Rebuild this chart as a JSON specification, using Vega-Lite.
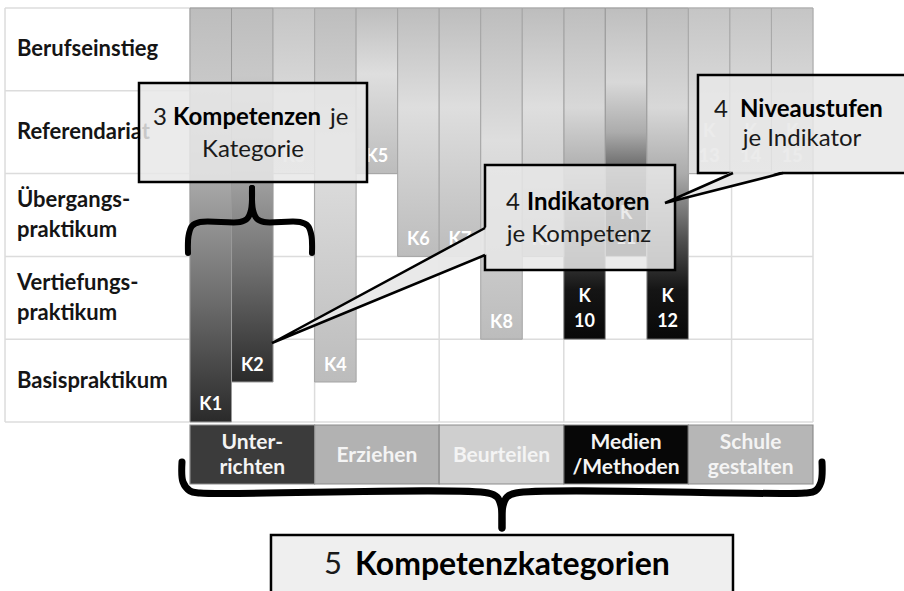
{
  "$schema": "https://vega.github.io/schema/vega-lite/v6.json",
  "width": 904,
  "height": 591,
  "autosize": {"type": "fit", "contains": "padding"},
  "padding": 0,
  "background": "white",
  "config": {"view": {"stroke": null}, "text": {"font": "Lato"}},
  "datasets": {
    "gitter": [
      {"x": -4.454, "x2": 15, "y": 0, "y2": 0},
      {"x": -4.454, "x2": 15, "y": 1, "y2": 1},
      {"x": -4.454, "x2": 15, "y": 2, "y2": 2},
      {"x": -4.454, "x2": 15, "y": 3, "y2": 3},
      {"x": -4.454, "x2": 15, "y": 4, "y2": 4},
      {"x": -4.454, "x2": 15, "y": 5, "y2": 5},
      {"x": -4.454, "x2": -4.454, "y": 0, "y2": 5},
      {"x": 0, "x2": 0, "y": 0, "y2": 5},
      {"x": 3, "x2": 3, "y": 0, "y2": 5},
      {"x": 6, "x2": 6, "y": 0, "y2": 5},
      {"x": 9, "x2": 9, "y": 0, "y2": 5},
      {"x": 13.04, "x2": 13.04, "y": 0, "y2": 5},
      {"x": 15, "x2": 15, "y": 0, "y2": 5}
    ],
    "stufen": [
      {"x": -4.166, "y": 4.5, "t": "Berufseinstieg", "z": 1},
      {"x": -4.166, "y": 3.5, "t": "Referendariat", "z": 1},
      {"x": -4.166, "y": 2.5, "t": "Übergangs-\npraktikum", "z": 2},
      {"x": -4.166, "y": 1.5, "t": "Vertiefungs-\npraktikum", "z": 2},
      {"x": -4.166, "y": 0.5, "t": "Basispraktikum", "z": 1}
    ],
    "balken": [
      {"k": "K1", "x": 0, "x2": 1, "xm": 0.5, "y": 0, "y2": 5, "g": "a", "t": "K1"},
      {"k": "K2", "x": 1, "x2": 2, "xm": 1.5, "y": 0.483, "y2": 5, "g": "a", "t": "K2"},
      {"k": "K3", "x": 2, "x2": 3, "xm": 2.5, "y": 3.0, "y2": 5, "g": "d", "t": "K3"},
      {"k": "K4", "x": 3, "x2": 4, "xm": 3.5, "y": 0.483, "y2": 5, "g": "c", "t": "K4"},
      {"k": "K5", "x": 4, "x2": 5, "xm": 4.5, "y": 3.0, "y2": 5, "g": "c", "t": "K5"},
      {"k": "K6", "x": 5, "x2": 6, "xm": 5.5, "y": 2.0, "y2": 5, "g": "c", "t": "K6"},
      {"k": "K7", "x": 6, "x2": 7, "xm": 6.5, "y": 2.0, "y2": 5, "g": "c", "t": "K7"},
      {"k": "K8", "x": 7, "x2": 8, "xm": 7.5, "y": 1.0, "y2": 5, "g": "c", "t": "K8"},
      {"k": "K9", "x": 8, "x2": 9, "xm": 8.5, "y": 2.0, "y2": 5, "g": "c", "t": "K9"},
      {"k": "K10", "x": 9, "x2": 10, "xm": 9.5, "y": 1.0, "y2": 5, "g": "b", "t": "K\n10"},
      {"k": "K11", "x": 10, "x2": 11, "xm": 10.5, "y": 2.0, "y2": 5, "g": "b", "t": "K\n11"},
      {"k": "K12", "x": 11, "x2": 12, "xm": 11.5, "y": 1.0, "y2": 5, "g": "b", "t": "K\n12"},
      {"k": "K13", "x": 12, "x2": 13, "xm": 12.5, "y": 3.0, "y2": 5, "g": "d", "t": "K\n13"},
      {"k": "K14", "x": 13, "x2": 14, "xm": 13.5, "y": 3.0, "y2": 5, "g": "d", "t": "K\n14"},
      {"k": "K15", "x": 14, "x2": 15, "xm": 14.5, "y": 3.0, "y2": 5, "g": "d", "t": "K\n15"}
    ],
    "kat": [
      {"k": "Unterrichten", "t": "Unter-\nrichten", "z": 2, "x": 0, "x2": 3, "xm": 1.5, "y": -0.036, "y2": -0.749, "ym": -0.405},
      {"k": "Erziehen", "t": "Erziehen", "z": 1, "x": 3, "x2": 6, "xm": 4.5, "y": -0.036, "y2": -0.749, "ym": -0.405},
      {"k": "Beurteilen", "t": "Beurteilen", "z": 1, "x": 6, "x2": 9, "xm": 7.5, "y": -0.036, "y2": -0.749, "ym": -0.405},
      {"k": "Medien/Methoden", "t": "Medien\n/Methoden", "z": 2, "x": 9, "x2": 12, "xm": 10.5, "y": -0.036, "y2": -0.749, "ym": -0.405},
      {"k": "Schule gestalten", "t": "Schule\ngestalten", "z": 2, "x": 12, "x2": 15, "xm": 13.5, "y": -0.036, "y2": -0.749, "ym": -0.405}
    ],
    "klammern": [
      {"b": "gl", "gr": 1, "o": 1, "x": -0.1926, "y": -0.483},
      {"b": "gl", "gr": 1, "o": 2, "x": -0.1685, "y": -0.725},
      {"b": "gl", "gr": 1, "o": 3, "x": 0, "y": -0.833},
      {"b": "gl", "gr": 1, "o": 4, "x": 0.2408, "y": -0.857},
      {"b": "gl", "gr": 1, "o": 5, "x": 7.175, "y": -0.857},
      {"b": "gl", "gr": 1, "o": 6, "x": 7.392, "y": -0.906},
      {"b": "gl", "gr": 1, "o": 7, "x": 7.488, "y": -1.014},
      {"b": "gl", "gr": 1, "o": 8, "x": 7.512, "y": -1.28},
      {"b": "gr", "gr": 1, "o": 1, "x": 7.512, "y": -1.28},
      {"b": "gr", "gr": 1, "o": 2, "x": 7.536, "y": -1.014},
      {"b": "gr", "gr": 1, "o": 3, "x": 7.633, "y": -0.906},
      {"b": "gr", "gr": 1, "o": 4, "x": 7.849, "y": -0.857},
      {"b": "gr", "gr": 1, "o": 5, "x": 14.808, "y": -0.857},
      {"b": "gr", "gr": 1, "o": 6, "x": 15.049, "y": -0.833},
      {"b": "gr", "gr": 1, "o": 7, "x": 15.193, "y": -0.725},
      {"b": "gr", "gr": 1, "o": 8, "x": 15.217, "y": -0.483},
      {"b": "kl", "gr": 0, "o": 1, "x": -0.048, "y": 2.041},
      {"b": "kl", "gr": 0, "o": 2, "x": -0.036, "y": 2.246},
      {"b": "kl", "gr": 0, "o": 3, "x": 0.048, "y": 2.367},
      {"b": "kl", "gr": 0, "o": 4, "x": 0.241, "y": 2.415},
      {"b": "kl", "gr": 0, "o": 5, "x": 1.204, "y": 2.415},
      {"b": "kl", "gr": 0, "o": 6, "x": 1.372, "y": 2.452},
      {"b": "kl", "gr": 0, "o": 7, "x": 1.469, "y": 2.56},
      {"b": "kl", "gr": 0, "o": 8, "x": 1.493, "y": 2.826},
      {"b": "kr", "gr": 0, "o": 1, "x": 1.493, "y": 2.826},
      {"b": "kr", "gr": 0, "o": 2, "x": 1.517, "y": 2.56},
      {"b": "kr", "gr": 0, "o": 3, "x": 1.613, "y": 2.452},
      {"b": "kr", "gr": 0, "o": 4, "x": 1.782, "y": 2.415},
      {"b": "kr", "gr": 0, "o": 5, "x": 2.648, "y": 2.415},
      {"b": "kr", "gr": 0, "o": 6, "x": 2.841, "y": 2.367},
      {"b": "kr", "gr": 0, "o": 7, "x": 2.925, "y": 2.246},
      {"b": "kr", "gr": 0, "o": 8, "x": 2.937, "y": 2.041}
    ],
    "boxen": [
      {"b": "A", "x": -1.228, "x2": 4.262, "y": 4.094, "y2": 2.899},
      {"b": "B", "x": 7.103, "x2": 11.678, "y": 3.104, "y2": 1.836},
      {"b": "C", "x": 12.231, "x2": 17.5, "y": 4.191, "y2": 3.007}
    ],
    "zeiger": [
      {"z": "B", "x": 1.974, "y": 0.954, "y2": 0.954},
      {"z": "B", "x": 7.151, "y": 2.356, "y2": 2.027},
      {"z": "C", "x": 11.437, "y": 2.645, "y2": 2.645},
      {"z": "C", "x": 13.074, "y": 3.031, "y2": 2.854},
      {"z": "C", "x": 14.278, "y": 3.031, "y2": 3.031}
    ],
    "kanten": [
      {"z": "B", "o": 1, "x": 7.103, "y": 2.343},
      {"z": "B", "o": 2, "x": 1.974, "y": 0.954},
      {"z": "B", "o": 3, "x": 7.103, "y": 2.017},
      {"z": "C", "o": 1, "x": 13.074, "y": 3.007},
      {"z": "C", "o": 2, "x": 11.437, "y": 2.645},
      {"z": "C", "o": 3, "x": 14.278, "y": 3.007}
    ],
    "texte": [
      {"x": -0.554, "y": 3.671, "t": "3", "r": "zahl"},
      {"x": -0.409, "y": 3.671, "t": "Kompetenzen", "r": "fett"},
      {"x": 3.371, "y": 3.671, "t": "je", "r": "links"},
      {"x": 1.517, "y": 3.285, "t": "Kategorie", "r": "mitte"},
      {"x": 7.946, "y": 2.645, "t": "4", "r": "zahl"},
      {"x": 8.114, "y": 2.645, "t": "Indikatoren", "r": "fett"},
      {"x": 9.366, "y": 2.258, "t": "je Kompetenz", "r": "mitte"},
      {"x": 12.954, "y": 3.768, "t": "4", "r": "zahl"},
      {"x": 13.243, "y": 3.768, "t": "Niveaustufen", "r": "fett"},
      {"x": 14.736, "y": 3.418, "t": "je Indikator", "r": "mitte"}
    ],
    "unten": [
      {"x": 1.95, "x2": 13.074, "y": -1.365, "y2": -2.3}
    ],
    "untentext": [
      {"x": 3.66, "y": -1.727, "t": "5", "r": "zahl"},
      {"x": 3.973, "y": -1.727, "t": "Kompetenzkategorien", "r": "fett"}
    ]
  },
  "layer": [
    {
      "data": {"name": "gitter"},
      "mark": {"type": "rule", "color": "#dcdcdc", "strokeWidth": 1.5},
      "encoding": {
        "x": {"field": "x", "type": "quantitative", "scale": {"domain": [-4.5747, 17.1915], "nice": false, "zero": false}, "axis": null},
        "x2": {"field": "x2"},
        "y": {"field": "y", "type": "quantitative", "scale": {"domain": [-2.0411, 5.0966], "nice": false, "zero": false}, "axis": null},
        "y2": {"field": "y2"}
      }
    },
    {
      "data": {"name": "stufen"},
      "transform": [{"filter": "datum.z == 1"}],
      "mark": {"type": "text", "align": "left", "baseline": "middle", "fontWeight": "bold", "fontSize": 22, "color": "#151515"},
      "encoding": {
        "x": {"field": "x", "type": "quantitative", "scale": {"domain": [-4.5747, 17.1915], "nice": false, "zero": false}, "axis": null},
        "y": {"field": "y", "type": "quantitative", "scale": {"domain": [-2.0411, 5.0966], "nice": false, "zero": false}, "axis": null},
        "text": {"field": "t"}
      }
    },
    {
      "data": {"name": "stufen"},
      "transform": [{"filter": "datum.z == 2"}],
      "mark": {"type": "text", "align": "left", "baseline": "middle", "fontWeight": "bold", "fontSize": 22, "color": "#151515", "lineBreak": "\n", "lineHeight": 30, "dy": -15},
      "encoding": {
        "x": {"field": "x", "type": "quantitative", "scale": {"domain": [-4.5747, 17.1915], "nice": false, "zero": false}, "axis": null},
        "y": {"field": "y", "type": "quantitative", "scale": {"domain": [-2.0411, 5.0966], "nice": false, "zero": false}, "axis": null},
        "text": {"field": "t"}
      }
    },
    {
      "data": {"name": "balken"},
      "transform": [{"filter": "datum.g == 'a'"}],
      "mark": {"type": "rect", "stroke": "#9a9a9a", "strokeWidth": 1,
        "fill": {"gradient": "linear", "x1": 0, "y1": 0, "x2": 0, "y2": 1, "stops": [
          {"offset": 0, "color": "#bdbdbd"}, {"offset": 0.18, "color": "#c8c8c8"}, {"offset": 0.42, "color": "#a8a8a8"}, {"offset": 0.7, "color": "#6e6e6e"}, {"offset": 1, "color": "#2a2a2a"}]}},
      "encoding": {
        "x": {"field": "x", "type": "quantitative", "scale": {"domain": [-4.5747, 17.1915], "nice": false, "zero": false}, "axis": null},
        "x2": {"field": "x2"},
        "y": {"field": "y", "type": "quantitative", "scale": {"domain": [-2.0411, 5.0966], "nice": false, "zero": false}, "axis": null},
        "y2": {"field": "y2"}
      }
    },
    {
      "data": {"name": "balken"},
      "transform": [{"filter": "datum.g == 'b'"}],
      "mark": {"type": "rect", "stroke": "#9a9a9a", "strokeWidth": 1,
        "fill": {"gradient": "linear", "x1": 0, "y1": 0, "x2": 0, "y2": 1, "stops": [
          {"offset": 0, "color": "#bebebe"}, {"offset": 0.3, "color": "#d8d8d8"}, {"offset": 0.5, "color": "#acacac"}, {"offset": 0.7, "color": "#505050"}, {"offset": 0.85, "color": "#151515"}, {"offset": 1, "color": "#080808"}]}},
      "encoding": {
        "x": {"field": "x", "type": "quantitative", "scale": {"domain": [-4.5747, 17.1915], "nice": false, "zero": false}, "axis": null},
        "x2": {"field": "x2"},
        "y": {"field": "y", "type": "quantitative", "scale": {"domain": [-2.0411, 5.0966], "nice": false, "zero": false}, "axis": null},
        "y2": {"field": "y2"}
      }
    },
    {
      "data": {"name": "balken"},
      "transform": [{"filter": "datum.g == 'c'"}],
      "mark": {"type": "rect", "stroke": "#a4a4a4", "strokeWidth": 1,
        "fill": {"gradient": "linear", "x1": 0, "y1": 0, "x2": 0, "y2": 1, "stops": [
          {"offset": 0, "color": "#bdbdbd"}, {"offset": 0.4, "color": "#dedede"}, {"offset": 1, "color": "#bcbcbc"}]}},
      "encoding": {
        "x": {"field": "x", "type": "quantitative", "scale": {"domain": [-4.5747, 17.1915], "nice": false, "zero": false}, "axis": null},
        "x2": {"field": "x2"},
        "y": {"field": "y", "type": "quantitative", "scale": {"domain": [-2.0411, 5.0966], "nice": false, "zero": false}, "axis": null},
        "y2": {"field": "y2"}
      }
    },
    {
      "data": {"name": "balken"},
      "transform": [{"filter": "datum.g == 'd'"}],
      "mark": {"type": "rect", "stroke": "#a8a8a8", "strokeWidth": 1,
        "fill": {"gradient": "linear", "x1": 0, "y1": 0, "x2": 0, "y2": 1, "stops": [
          {"offset": 0, "color": "#c5c5c5"}, {"offset": 0.6, "color": "#dcdcdc"}, {"offset": 1, "color": "#e0e0e0"}]}},
      "encoding": {
        "x": {"field": "x", "type": "quantitative", "scale": {"domain": [-4.5747, 17.1915], "nice": false, "zero": false}, "axis": null},
        "x2": {"field": "x2"},
        "y": {"field": "y", "type": "quantitative", "scale": {"domain": [-2.0411, 5.0966], "nice": false, "zero": false}, "axis": null},
        "y2": {"field": "y2"}
      }
    },
    {
      "data": {"name": "balken"},
      "transform": [{"filter": "datum.x < 9"}],
      "mark": {"type": "text", "align": "center", "baseline": "middle", "fontWeight": "bold", "fontSize": 18, "color": "white", "dy": -16.5},
      "encoding": {
        "x": {"field": "xm", "type": "quantitative", "scale": {"domain": [-4.5747, 17.1915], "nice": false, "zero": false}, "axis": null},
        "y": {"field": "y", "type": "quantitative", "scale": {"domain": [-2.0411, 5.0966], "nice": false, "zero": false}, "axis": null},
        "text": {"field": "t"}
      }
    },
    {
      "data": {"name": "balken"},
      "transform": [{"filter": "datum.x >= 9"}],
      "mark": {"type": "text", "align": "center", "baseline": "middle", "fontWeight": "bold", "fontSize": 18, "color": "white", "dy": -42, "lineBreak": "\n", "lineHeight": 25},
      "encoding": {
        "x": {"field": "xm", "type": "quantitative", "scale": {"domain": [-4.5747, 17.1915], "nice": false, "zero": false}, "axis": null},
        "y": {"field": "y", "type": "quantitative", "scale": {"domain": [-2.0411, 5.0966], "nice": false, "zero": false}, "axis": null},
        "text": {"field": "t"}
      }
    },
    {
      "data": {"name": "kat"},
      "mark": {"type": "rect", "stroke": "#8c8c8c", "strokeWidth": 1.2},
      "encoding": {
        "x": {"field": "x", "type": "quantitative", "scale": {"domain": [-4.5747, 17.1915], "nice": false, "zero": false}, "axis": null},
        "x2": {"field": "x2"},
        "y": {"field": "y", "type": "quantitative", "scale": {"domain": [-2.0411, 5.0966], "nice": false, "zero": false}, "axis": null},
        "y2": {"field": "y2"},
        "fill": {"field": "k", "type": "nominal", "legend": null,
          "scale": {"domain": ["Unterrichten", "Erziehen", "Beurteilen", "Medien/Methoden", "Schule gestalten"],
                    "range": ["#3b3b3b", "#b2b2b2", "#cfcfcf", "#070707", "#b6b6b6"]}}
      }
    },
    {
      "data": {"name": "kat"},
      "transform": [{"filter": "datum.z == 1"}],
      "mark": {"type": "text", "align": "center", "baseline": "middle", "fontWeight": "bold", "fontSize": 21, "color": "#f4f4f4"},
      "encoding": {
        "x": {"field": "xm", "type": "quantitative", "scale": {"domain": [-4.5747, 17.1915], "nice": false, "zero": false}, "axis": null},
        "y": {"field": "ym", "type": "quantitative", "scale": {"domain": [-2.0411, 5.0966], "nice": false, "zero": false}, "axis": null},
        "text": {"field": "t"}
      }
    },
    {
      "data": {"name": "kat"},
      "transform": [{"filter": "datum.z == 2"}],
      "mark": {"type": "text", "align": "center", "baseline": "middle", "fontWeight": "bold", "fontSize": 21, "color": "#f4f4f4", "lineBreak": "\n", "lineHeight": 25, "dy": -12.5},
      "encoding": {
        "x": {"field": "xm", "type": "quantitative", "scale": {"domain": [-4.5747, 17.1915], "nice": false, "zero": false}, "axis": null},
        "y": {"field": "ym", "type": "quantitative", "scale": {"domain": [-2.0411, 5.0966], "nice": false, "zero": false}, "axis": null},
        "text": {"field": "t"}
      }
    },
    {
      "data": {"name": "klammern"},
      "transform": [{"filter": "datum.gr == 1"}],
      "mark": {"type": "line", "color": "black", "strokeWidth": 7, "interpolate": "catmull-rom", "strokeCap": "round", "strokeJoin": "round"},
      "encoding": {
        "x": {"field": "x", "type": "quantitative", "scale": {"domain": [-4.5747, 17.1915], "nice": false, "zero": false}, "axis": null},
        "y": {"field": "y", "type": "quantitative", "scale": {"domain": [-2.0411, 5.0966], "nice": false, "zero": false}, "axis": null},
        "detail": {"field": "b"},
        "order": {"field": "o"}
      }
    },
    {
      "data": {"name": "klammern"},
      "transform": [{"filter": "datum.gr == 0"}],
      "mark": {"type": "line", "color": "black", "strokeWidth": 6, "interpolate": "catmull-rom", "strokeCap": "round", "strokeJoin": "round"},
      "encoding": {
        "x": {"field": "x", "type": "quantitative", "scale": {"domain": [-4.5747, 17.1915], "nice": false, "zero": false}, "axis": null},
        "y": {"field": "y", "type": "quantitative", "scale": {"domain": [-2.0411, 5.0966], "nice": false, "zero": false}, "axis": null},
        "detail": {"field": "b"},
        "order": {"field": "o"}
      }
    },
    {
      "data": {"name": "boxen"},
      "mark": {"type": "rect", "fill": "#e8e8e8", "fillOpacity": 0.85, "stroke": "black", "strokeWidth": 2.5, "clip": true},
      "encoding": {
        "x": {"field": "x", "type": "quantitative", "scale": {"domain": [-4.5747, 17.1915], "nice": false, "zero": false}, "axis": null},
        "x2": {"field": "x2"},
        "y": {"field": "y", "type": "quantitative", "scale": {"domain": [-2.0411, 5.0966], "nice": false, "zero": false}, "axis": null},
        "y2": {"field": "y2"}
      }
    },
    {
      "data": {"name": "zeiger"},
      "mark": {"type": "area", "color": "#e8e8e8", "opacity": 0.95},
      "encoding": {
        "x": {"field": "x", "type": "quantitative", "scale": {"domain": [-4.5747, 17.1915], "nice": false, "zero": false}, "axis": null},
        "y": {"field": "y", "type": "quantitative", "scale": {"domain": [-2.0411, 5.0966], "nice": false, "zero": false}, "axis": null},
        "y2": {"field": "y2"},
        "detail": {"field": "z"}
      }
    },
    {
      "data": {"name": "kanten"},
      "mark": {"type": "line", "color": "black", "strokeWidth": 2.5, "strokeJoin": "miter"},
      "encoding": {
        "x": {"field": "x", "type": "quantitative", "scale": {"domain": [-4.5747, 17.1915], "nice": false, "zero": false}, "axis": null},
        "y": {"field": "y", "type": "quantitative", "scale": {"domain": [-2.0411, 5.0966], "nice": false, "zero": false}, "axis": null},
        "detail": {"field": "z"},
        "order": {"field": "o"}
      }
    },
    {
      "data": {"name": "texte"},
      "transform": [{"filter": "datum.r == 'zahl'"}],
      "mark": {"type": "text", "align": "right", "baseline": "middle", "fontSize": 24, "color": "#1a1a1a"},
      "encoding": {
        "x": {"field": "x", "type": "quantitative", "scale": {"domain": [-4.5747, 17.1915], "nice": false, "zero": false}, "axis": null},
        "y": {"field": "y", "type": "quantitative", "scale": {"domain": [-2.0411, 5.0966], "nice": false, "zero": false}, "axis": null},
        "text": {"field": "t"}
      }
    },
    {
      "data": {"name": "texte"},
      "transform": [{"filter": "datum.r == 'fett'"}],
      "mark": {"type": "text", "align": "left", "baseline": "middle", "fontSize": 24, "fontWeight": "bold", "color": "#000000"},
      "encoding": {
        "x": {"field": "x", "type": "quantitative", "scale": {"domain": [-4.5747, 17.1915], "nice": false, "zero": false}, "axis": null},
        "y": {"field": "y", "type": "quantitative", "scale": {"domain": [-2.0411, 5.0966], "nice": false, "zero": false}, "axis": null},
        "text": {"field": "t"}
      }
    },
    {
      "data": {"name": "texte"},
      "transform": [{"filter": "datum.r == 'links'"}],
      "mark": {"type": "text", "align": "left", "baseline": "middle", "fontSize": 24, "color": "#1a1a1a"},
      "encoding": {
        "x": {"field": "x", "type": "quantitative", "scale": {"domain": [-4.5747, 17.1915], "nice": false, "zero": false}, "axis": null},
        "y": {"field": "y", "type": "quantitative", "scale": {"domain": [-2.0411, 5.0966], "nice": false, "zero": false}, "axis": null},
        "text": {"field": "t"}
      }
    },
    {
      "data": {"name": "texte"},
      "transform": [{"filter": "datum.r == 'mitte'"}],
      "mark": {"type": "text", "align": "center", "baseline": "middle", "fontSize": 24, "color": "#1a1a1a"},
      "encoding": {
        "x": {"field": "x", "type": "quantitative", "scale": {"domain": [-4.5747, 17.1915], "nice": false, "zero": false}, "axis": null},
        "y": {"field": "y", "type": "quantitative", "scale": {"domain": [-2.0411, 5.0966], "nice": false, "zero": false}, "axis": null},
        "text": {"field": "t"}
      }
    },
    {
      "data": {"name": "unten"},
      "mark": {"type": "rect", "fill": "#efefef", "stroke": "black", "strokeWidth": 2.5, "clip": true},
      "encoding": {
        "x": {"field": "x", "type": "quantitative", "scale": {"domain": [-4.5747, 17.1915], "nice": false, "zero": false}, "axis": null},
        "x2": {"field": "x2"},
        "y": {"field": "y", "type": "quantitative", "scale": {"domain": [-2.0411, 5.0966], "nice": false, "zero": false}, "axis": null},
        "y2": {"field": "y2"}
      }
    },
    {
      "data": {"name": "untentext"},
      "transform": [{"filter": "datum.r == 'zahl'"}],
      "mark": {"type": "text", "align": "right", "baseline": "middle", "fontSize": 31, "color": "#1a1a1a"},
      "encoding": {
        "x": {"field": "x", "type": "quantitative", "scale": {"domain": [-4.5747, 17.1915], "nice": false, "zero": false}, "axis": null},
        "y": {"field": "y", "type": "quantitative", "scale": {"domain": [-2.0411, 5.0966], "nice": false, "zero": false}, "axis": null},
        "text": {"field": "t"}
      }
    },
    {
      "data": {"name": "untentext"},
      "transform": [{"filter": "datum.r == 'fett'"}],
      "mark": {"type": "text", "align": "left", "baseline": "middle", "fontSize": 32, "fontWeight": "bold", "color": "#000000"},
      "encoding": {
        "x": {"field": "x", "type": "quantitative", "scale": {"domain": [-4.5747, 17.1915], "nice": false, "zero": false}, "axis": null},
        "y": {"field": "y", "type": "quantitative", "scale": {"domain": [-2.0411, 5.0966], "nice": false, "zero": false}, "axis": null},
        "text": {"field": "t"}
      }
    }
  ]
}
